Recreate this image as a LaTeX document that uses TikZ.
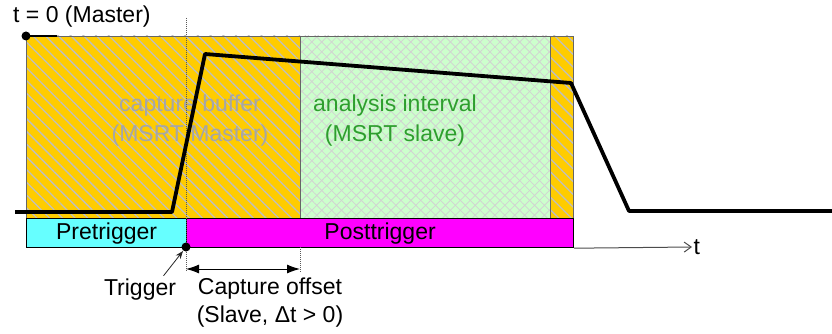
\documentclass[tikz,border=0pt]{standalone}
\usepackage{fontspec}
\setmainfont{Liberation Sans}
\usetikzlibrary{arrows.meta,patterns.meta}
\definecolor{bufyellow}{HTML}{FFCC00}
\definecolor{anagreen}{HTML}{CCFFCC}
\definecolor{pretrig}{HTML}{66FFFF}
\definecolor{posttrig}{HTML}{FF00FF}
\definecolor{labgreen}{HTML}{2E9E2E}

\begin{document}
\begin{tikzpicture}[x=1pt,y=-1pt,>=Stealth,every node/.style={font=\fontsize{23}{27}\selectfont}]
	\tikzset{
		hatch/.style={pattern={Lines[angle=-45,distance=9pt,line width=1.3pt]},pattern color=gray!50},
		cross/.style={pattern={Lines[angle=45,distance=7pt,line width=0.8pt]},pattern color=gray!35},
		cross2/.style={pattern={Lines[angle=-45,distance=7pt,line width=0.8pt]},pattern color=gray!35},
		bar/.style={draw,line width=1.2pt,anchor=north west,minimum height=29pt,inner sep=0pt},
	}
	\useasboundingbox (0,0) rectangle (832,334);

	\def\top{36}
	\def\bot{218}
	\coordinate (trig) at (186,247);

	% capture buffer and analysis interval
	\fill[bufyellow] (26,\top) rectangle (573,\bot);
	\path[hatch] (26,\top) rectangle (300,\bot);
	\path[hatch] (550,\top) rectangle (573,\bot);
	\fill[anagreen] (300,\top) rectangle (550,\bot);
	\path[cross] (300,\top) rectangle (550,\bot);
	\path[cross2] (300,\top) rectangle (550,\bot);
	\draw[gray!80!black,line width=0.8pt] (26,\top) rectangle (573,\bot);
	\draw[gray!80!black,line width=0.8pt] (300,\top) -- (300,\bot) (550,\top) -- (550,\bot);

	\node[gray!70,align=center,font=\fontsize{23}{30}\selectfont] (buf) at (190,121) {capture buffer\\(MSRT Master)};
	\node[labgreen,align=center,font=\fontsize{23}{30}\selectfont] (ana) at (395,121) {analysis interval\\(MSRT slave)};

	% pre / post trigger
	\node[bar,fill=pretrig,minimum width=160pt] (pre) at (26,\bot) {Pretrigger};
	\node[bar,fill=posttrig,minimum width=387pt] (post) at (186,\bot) {Posttrigger};
	\draw[-{Straight Barb[length=7pt,width=10pt]},gray!60!black,line width=1pt] (post.south east) -- (692,247) node[right,black,inner sep=1pt] (tax) {t};

	% trigger and offset
	\draw[gray!70!black,densely dotted,line width=1pt] (186,18) -- (186,272);
	\draw[gray!70!black,densely dotted,line width=1pt] (300,247) -- (300,272);
	\fill (trig) circle (4.5pt);
	\node (tlab) at (140,290) {Trigger};
	\draw[-{Stealth[length=8pt]},gray!30!black,line width=0.8pt] (tlab.north east) ++(-16,0) -- ([shift={(-3,4)}]trig);
	\coordinate (ofsA) at (186,269);
	\coordinate (ofsB) at (300,269);
	\draw[{Latex[length=13pt,width=9pt]}-{Latex[length=13pt,width=9pt]},line width=1pt] (ofsA) -- (ofsB);
	\node[align=center,font=\fontsize{23}{28}\selectfont] (ofs) at (270,303) {Capture offset\\(Slave, Δt > 0)};

	% master start
	\coordinate (t0) at (26,\top);
	\draw[line width=2pt] (t0) -- (57,\top);
	\fill (t0) circle (4.5pt);
	\node[anchor=west,inner sep=0pt] (t0lab) at (13,17) {t = 0 (Master)};

	% signal
	\draw[line width=3.8pt,line join=round] (15,212) -- (172,212) -- (205,54) -- (571,83) -- (629,211) -- (832,211);
\end{tikzpicture}
\end{document}
